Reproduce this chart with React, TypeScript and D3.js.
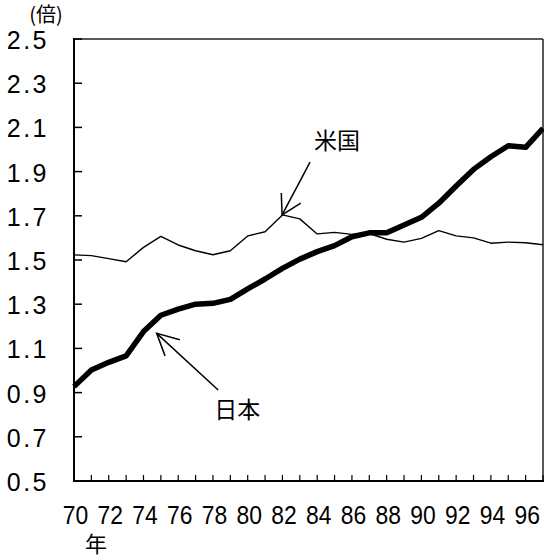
import React from "react";
import * as d3 from "d3";

// Years on the horizontal axis
const years = [70, 71, 72, 73, 74, 75, 76, 77, 78, 79, 80, 81, 82, 83, 84, 85, 86, 87, 88, 89, 90, 91, 92, 93, 94, 95, 96, 97];

// 日本 series (倍)
const japan = [0.927, 1.002, 1.037, 1.066, 1.176, 1.25, 1.278, 1.3, 1.304, 1.322, 1.369, 1.414, 1.462, 1.504, 1.538, 1.565, 1.605, 1.623, 1.623, 1.658, 1.693, 1.757, 1.835, 1.91, 1.967, 2.017, 2.01, 2.096];

// 米国 series (倍)
const usa = [1.523, 1.52, 1.506, 1.492, 1.557, 1.607, 1.568, 1.542, 1.524, 1.542, 1.609, 1.628, 1.704, 1.686, 1.618, 1.625, 1.616, 1.62, 1.594, 1.581, 1.598, 1.633, 1.609, 1.6, 1.576, 1.581, 1.578, 1.569];

const yTicks = [0.5, 0.7, 0.9, 1.1, 1.3, 1.5, 1.7, 1.9, 2.1, 2.3, 2.5];
const xLabels = [70, 72, 74, 76, 78, 80, 82, 84, 86, 88, 90, 92, 94, 96];

// Callouts: label text, label position, arrow tail and arrow tip in data units
const callouts = [
  { text: "米国", label: [85.14, 2.04], tail: [83.59, 1.943], tip: [81.98, 1.704], spread: 30, head: 22 },
  { text: "日本", label: [79.4, 0.82], tail: [78.3, 0.912], tip: [74.76, 1.168], spread: 27, head: 24 },
];

const W = 544;
const H = 557;
const FONT = "'Liberation Sans', Arial, 'Noto Sans CJK JP', sans-serif";
const CJK = "'Noto Sans CJK JP', sans-serif";

export default function App() {
  const x = d3.scaleLinear().domain([70, 97]).range([74, 543]);
  const y = d3.scaleLinear().domain([0.5, 2.5]).range([481, 39]);

  const line = d3
    .line<number>()
    .x((_, i) => x(years[i]))
    .y((d) => y(d));

  const arrowHead = (tip: number[], tail: number[], spread: number, len: number) => {
    const tx = x(tip[0]);
    const ty = y(tip[1]);
    const bx = x(tail[0]);
    const by = y(tail[1]);
    const a = Math.atan2(by - ty, bx - tx);
    const s = (spread * Math.PI) / 180;
    const p1 = [tx + len * Math.cos(a - s), ty + len * Math.sin(a - s)];
    const p2 = [tx + len * Math.cos(a + s), ty + len * Math.sin(a + s)];
    return `M${p1[0]},${p1[1]}L${tx},${ty}L${p2[0]},${p2[1]}`;
  };

  return (
    <svg
      width={W}
      height={H}
      style={{ position: "absolute", left: 0, top: 0, background: "#fff" }}
    >
      {/* frame: top and right edges */}
      <line x1={74} y1={39} x2={543} y2={39} stroke="#222" strokeWidth={1.5} />
      <line x1={543} y1={39} x2={543} y2={481} stroke="#222" strokeWidth={1.5} />

      {/* y axis */}
      <line x1={74} y1={38} x2={74} y2={482} stroke="#000" strokeWidth={2} />
      {yTicks.map((t) => (
        <g key={t}>
          <line x1={73} x2={82} y1={y(t)} y2={y(t)} stroke="#000" strokeWidth={1.5} />
          <text
            x={49}
            y={y(t) + 10}
            textAnchor="end"
            fontFamily={FONT}
            fontSize={25}
            letterSpacing={2.5}
            fill="#000"
          >
            {t.toFixed(1)}
          </text>
        </g>
      ))}

      {/* x axis */}
      <line x1={73} y1={481} x2={544} y2={481} stroke="#000" strokeWidth={2} />
      {years.slice(1).map((yr) => (
        <line key={yr} x1={x(yr)} x2={x(yr)} y1={481} y2={475} stroke="#000" strokeWidth={1.2} />
      ))}
      {xLabels.map((yr) => (
        <text
          key={yr}
          transform={`translate(${x(yr) + 1.5},523.5) scale(0.88,1)`}
          textAnchor="middle"
          fontFamily={FONT}
          fontSize={26}
          fill="#000"
        >
          {yr}
        </text>
      ))}
      <text x={96} y={552} textAnchor="middle" fontFamily={CJK} fontSize={22} fill="#000">
        年
      </text>
      <text x={46} y={22} textAnchor="middle" fontFamily={CJK} fontSize={20} fill="#000">
        (倍)
      </text>

      {/* series */}
      <path d={line(usa) ?? ""} fill="none" stroke="#000" strokeWidth={1.4} strokeLinejoin="round" />
      <path d={line(japan) ?? ""} fill="none" stroke="#000" strokeWidth={5.5} strokeLinejoin="round" />

      {/* callouts */}
      {callouts.map((c) => (
        <g key={c.text}>
          <line
            x1={x(c.tail[0])}
            y1={y(c.tail[1])}
            x2={x(c.tip[0])}
            y2={y(c.tip[1])}
            stroke="#000"
            strokeWidth={1.5}
          />
          <path d={arrowHead(c.tip, c.tail, c.spread, c.head)} fill="none" stroke="#000" strokeWidth={1.5} />
          <text
            x={x(c.label[0])}
            y={y(c.label[1]) + 8}
            textAnchor="middle"
            fontFamily={CJK}
            fontSize={23}
            fill="#000"
          >
            {c.text}
          </text>
        </g>
      ))}
    </svg>
  );
}
